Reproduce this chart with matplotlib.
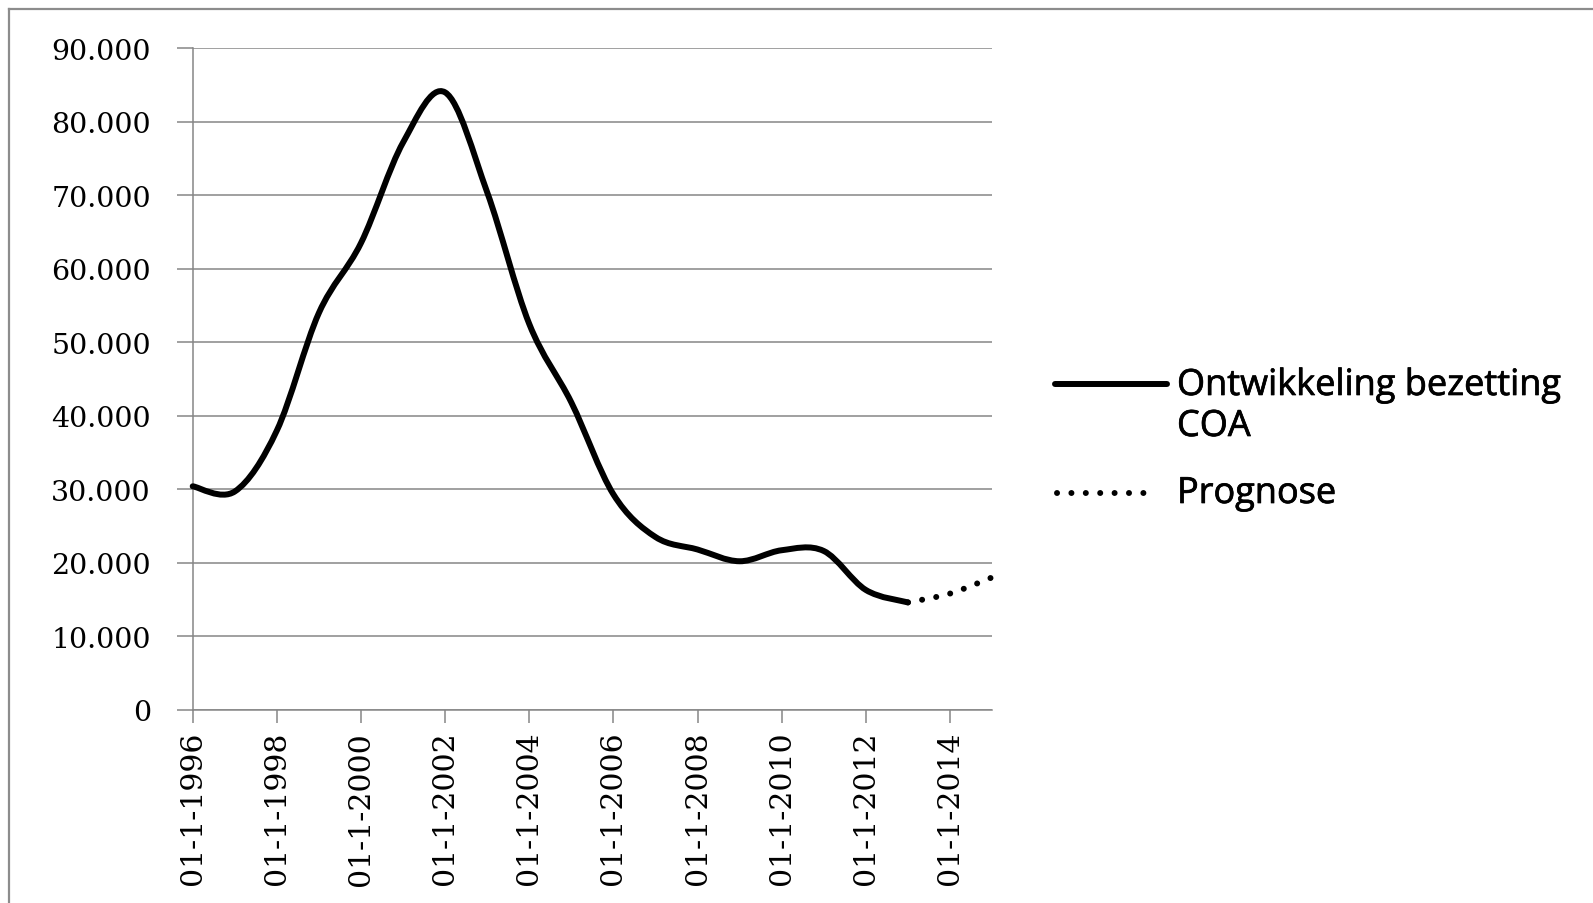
import datetime as dt
import matplotlib
matplotlib.use("Agg")
import matplotlib.pyplot as plt
import matplotlib.dates as mdates
import matplotlib.patheffects as pe
from matplotlib.path import Path
from matplotlib.patches import PathPatch
from matplotlib.lines import Line2D
from matplotlib.ticker import FixedLocator, FuncFormatter

# bezetting COA per 1 januari
years = list(range(1996, 2014))
coa = [30400, 29700, 38000, 54000, 63500, 77200, 84000, 70400, 52500,
       41800, 29300, 23500, 21800, 20200, 21700, 21600, 16300, 14600]

prognose_years = [2013, 2014, 2015]
prognose = [14600, 15800, 18000]

tick_years = list(range(1996, 2015, 2))
y_ticks = list(range(0, 90001, 10000))

label_coa = "Ontwikkeling bezetting"
label_coa2 = "COA"
label_prog = "Prognose"

GRID = "#868686"
W, H = 1593, 904
LW = 4.3


def to_num(yrs):
	return [mdates.date2num(dt.datetime(y, 1, 1)) for y in yrs]


def smooth_path(x, y):
	# excel-achtige vloeiende lijn (bezier door de punten)
	n = len(x)
	verts = [(x[0], y[0])]
	codes = [Path.MOVETO]
	for i in range(n - 1):
		x0, y0 = (x[i - 1], y[i - 1]) if i > 0 else (x[i], y[i])
		x3, y3 = (x[i + 2], y[i + 2]) if i + 2 < n else (x[i + 1], y[i + 1])
		c1 = (x[i] + (x[i + 1] - x0) / 6, y[i] + (y[i + 1] - y0) / 6)
		c2 = (x[i + 1] - (x3 - x[i]) / 6, y[i + 1] - (y3 - y[i]) / 6)
		verts += [c1, c2, (x[i + 1], y[i + 1])]
		codes += [Path.CURVE4] * 3
	return Path(verts, codes)


def fx(px):
	return px / W


def fy(px):
	return 1 - px / H


fig = plt.figure(figsize=(W / 100, H / 100), dpi=100)
ax = fig.add_axes([fx(192.7), fy(710.7), fx(992) - fx(192.7), fy(49.3) - fy(710.7)])

ax.add_patch(PathPatch(smooth_path(to_num(years), coa), fill=False, edgecolor="black",
                       lw=LW, capstyle="round", joinstyle="round", clip_on=False, zorder=3))
ax.add_patch(PathPatch(smooth_path(to_num(prognose_years), prognose), fill=False, edgecolor="black",
                       lw=LW, linestyle=(0, (0.01, 2.4)), capstyle="round", clip_on=False, zorder=3))

ax.set_xlim(mdates.date2num(dt.datetime(1996, 1, 1)), mdates.date2num(dt.datetime(2015, 1, 1)))
ax.set_ylim(0, 90000)

ax.xaxis.set_major_locator(FixedLocator(to_num(tick_years)))
ax.xaxis.set_major_formatter(FuncFormatter(
	lambda v, p: "{:02d}-{}-{}".format(mdates.num2date(v).day, mdates.num2date(v).month, mdates.num2date(v).year)))
ax.yaxis.set_major_locator(FixedLocator(y_ticks))
ax.yaxis.set_major_formatter(FuncFormatter(lambda v, p: "{:,}".format(int(v)).replace(",", ".")))

ax.grid(axis="y", color=GRID, lw=1.1)
ax.set_axisbelow(True)
for s in ["top", "right"]:
	ax.spines[s].set_visible(False)
for s in ["left", "bottom"]:
	ax.spines[s].set_color(GRID)
	ax.spines[s].set_linewidth(1.1)

ax.tick_params(axis="y", direction="out", length=11.2, width=1.1, color=GRID, pad=19,
               labelsize=20.5, labelfontfamily="DejaVu Serif")
ax.tick_params(axis="x", direction="out", length=9.4, width=1.1, color=GRID, pad=5.8,
               labelsize=21.5, labelfontfamily="DejaVu Serif", labelrotation=90)

# legenda
fig.add_artist(Line2D([fx(1055), fx(1167)], [fy(385), fy(385)], color="black", lw=LW,
                      solid_capstyle="round"))
fig.add_artist(Line2D([fx(1057), fx(1152)], [fy(494), fy(494)], color="black", lw=LW,
                      linestyle=(0, (0.01, 2.4)), dash_capstyle="round"))
lfont = dict(fontsize=26, family=["Open Sans", "DejaVu Sans"], va="baseline",
             path_effects=[pe.Stroke(linewidth=0.5, foreground="black"), pe.Normal()])
fig.text(fx(1177), fy(396), label_coa, **lfont)
fig.text(fx(1177), fy(437), label_coa2, **lfont)
fig.text(fx(1177), fy(504), label_prog, **lfont)

# kader
fig.add_artist(Line2D([fx(9), 1], [fy(10), fy(10)], color="#8c8c8c", lw=1.6))
fig.add_artist(Line2D([fx(9), fx(9)], [0, fy(10)], color="#8c8c8c", lw=1.6))

fig.savefig("out.png", dpi=100)
